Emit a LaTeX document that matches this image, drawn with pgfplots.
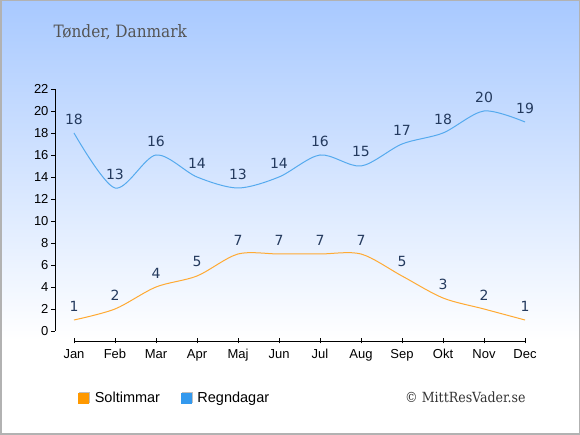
\documentclass[border=0pt]{standalone}
\usepackage{fontspec}
\setmainfont{Liberation Sans}
\newfontfamily\labfont{DejaVu Sans}
\newfontfamily\titlefont{DejaVu Serif Condensed}
\usepackage{pgfplots}
\pgfplotsset{compat=1.18}
\definecolor{bgtop}{HTML}{A8C9FF}
\definecolor{linor}{HTML}{FFAA33}
\definecolor{linbl}{HTML}{55AAEE}
\definecolor{legor}{HTML}{FF9900}
\definecolor{legbl}{HTML}{3399EE}
\definecolor{labc}{HTML}{243A5E}
\begin{document}
\begin{tikzpicture}
\useasboundingbox (0pt,0pt) rectangle (580pt,435pt);
\shade[top color=bgtop, bottom color=white] (0pt,95pt) rectangle (580pt,435pt);
\fill[white] (0pt,0pt) rectangle (580pt,95pt);
\draw[black!30, line width=1.5pt] (0.75pt,0.75pt) rectangle (579.25pt,434.25pt);
\node[anchor=west, text=black!67, font=\titlefont\fontsize{17}{20}\selectfont] at (50pt,403pt) {Tønder, Danmark};
\node[anchor=east, text=black!80, font=\titlefont\fontsize{14}{16}\selectfont] at (529pt,38pt) {© MittResVader.se};
\begin{axis}[
  at={(55pt,104pt)}, anchor=south west, scale only axis,
  width=470pt, height=242pt,
  xmin=-0.463, xmax=11, ymin=0, ymax=22,
  axis y line=left, axis x line=none,
  y axis line style={-, line width=0.8pt},
  ytick={0,2,...,22},
  tick align=outside, major tick length=4pt,
  every tick/.style={black, line width=0.8pt},
  /pgf/number format/assume math mode=true,
  yticklabel style={font=\fontsize{13}{15}\selectfont, xshift=1pt},
  clip=false,
  nodes near coords,
  every node near coord/.append style={font=\labfont\fontsize{14}{16}\selectfont, text=labc, anchor=center, yshift=14pt},
  legend style={at={(0.043,-0.278)}, anchor=west, draw=none, fill=none,
    font=\fontsize{14.5}{17}\selectfont, legend columns=2,
    /tikz/every odd column/.append style={column sep=3pt},
    /tikz/every even column/.append style={column sep=19pt}},
  legend image code/.code={\fill[black!25] (1pt,-4pt) rectangle (11pt,6pt); \fill[#1] (0pt,-5pt) rectangle (10pt,5pt);},
]
\addplot[linbl, line width=1pt, smooth, tension=0.5, forget plot] coordinates {
(0,18) (1,13) (2,16) (3,14) (4,13) (5,14) (6,16) (7,15) (8,17) (9,18) (10,20) (11,19)};
\addplot[linor, line width=1pt, smooth, tension=0.5, forget plot] coordinates {
(0,1) (1,2) (2,4) (3,5) (4,7) (5,7) (6,7) (7,7) (8,5) (9,3) (10,2) (11,1)};
\addlegendimage{legor, fill=legor}
\addlegendentry{Soltimmar}
\addlegendimage{legbl, fill=legbl}
\addlegendentry{Regndagar}
\end{axis}
\begin{axis}[
  at={(74pt,94pt)}, anchor=south west, scale only axis,
  width=451pt, height=10pt,
  xmin=0, xmax=11, ymin=0, ymax=1,
  axis x line=bottom, axis y line=none,
  x axis line style={-, line width=0.8pt},
  xtick={0,...,11},
  xticklabels={Jan,Feb,Mar,Apr,Maj,Jun,Jul,Aug,Sep,Okt,Nov,Dec},
  tick align=center, major tick length=5pt,
  every tick/.style={black, line width=0.8pt},
  xticklabel style={font=\fontsize{13}{15}\selectfont, yshift=-2.5pt},
]
\addplot[draw=none] coordinates {(0,0)};
\end{axis}
\end{tikzpicture}
\end{document}
